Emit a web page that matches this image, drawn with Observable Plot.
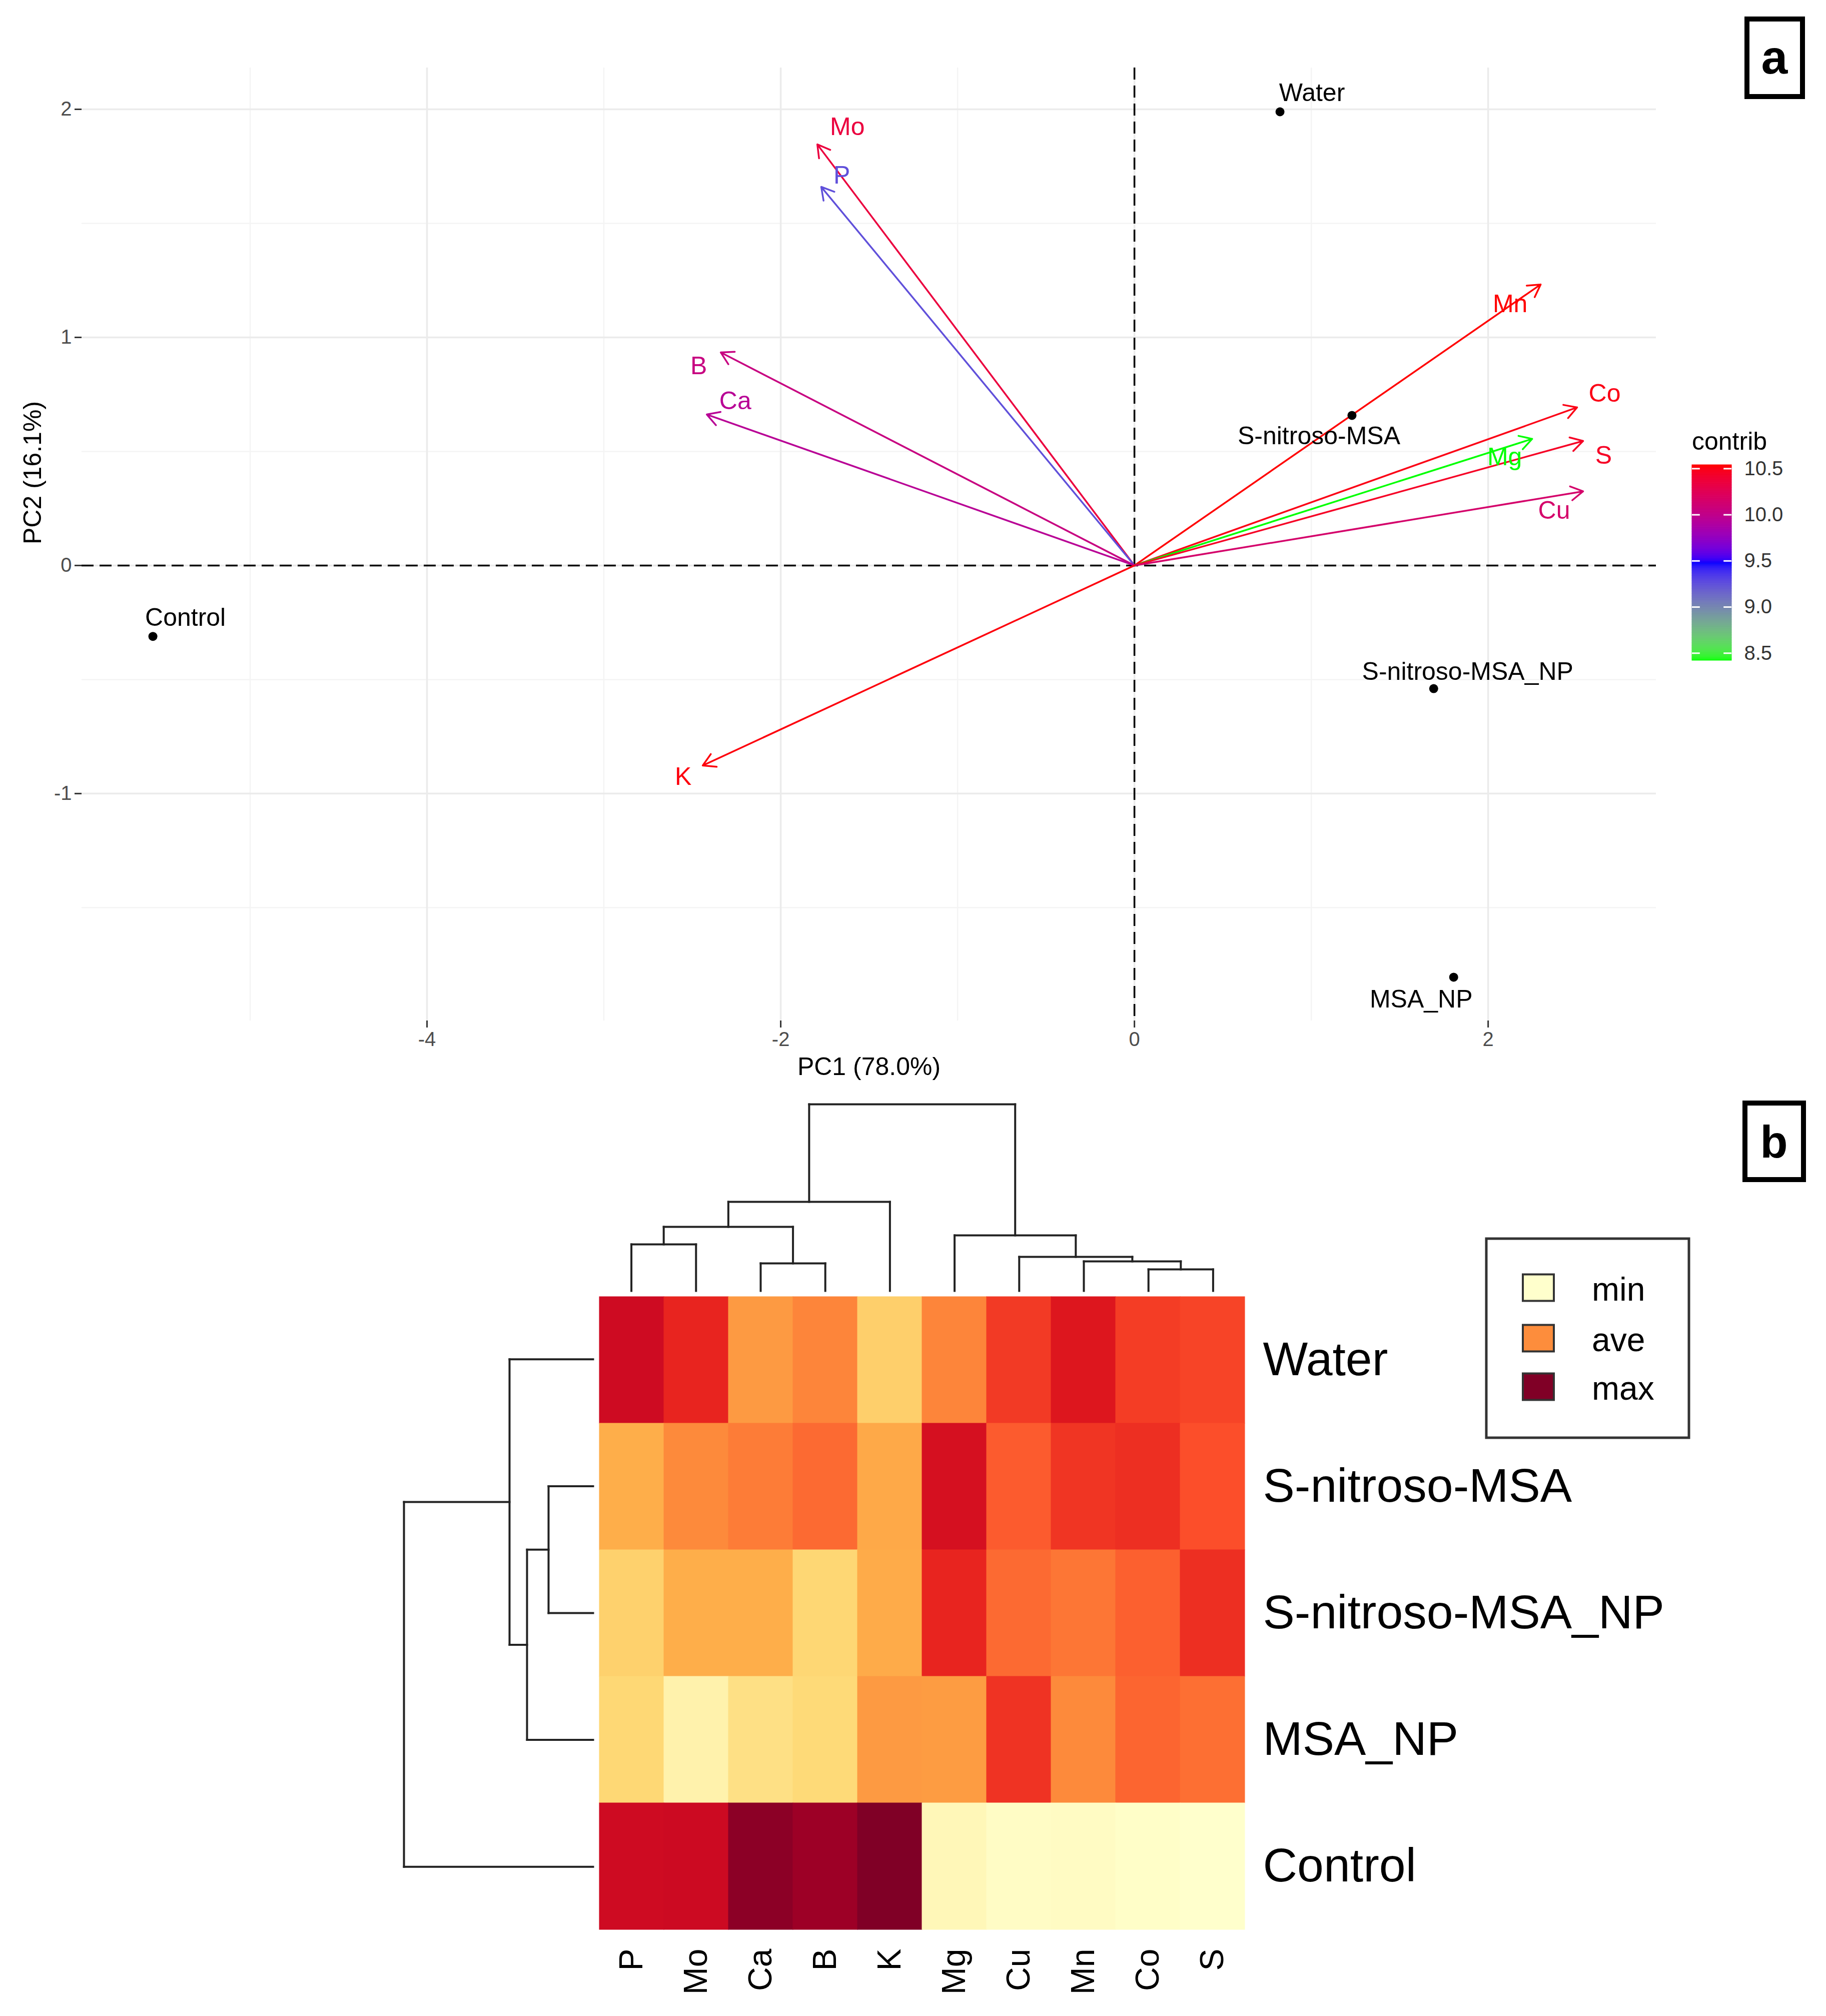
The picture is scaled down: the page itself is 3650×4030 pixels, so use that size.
<!DOCTYPE html>
<html><head><meta charset="utf-8">
<script src="https://cdn.jsdelivr.net/npm/d3@7"></script>
<script src="https://cdn.jsdelivr.net/npm/@observablehq/plot@0.6"></script>
<style>
html,body{margin:0;padding:0;background:#fff;overflow:hidden;}
#root{position:relative;width:3650px;height:4030px;background:#fff;font-family:"Liberation Sans",Arial,sans-serif;}
#root svg{position:absolute;}
</style></head><body><div id="root"></div>
<script>
// ---------- Panel a: PCA biplot ----------
const treatments = ["Water", "S-nitroso-MSA", "Control", "S-nitroso-MSA_NP", "MSA_NP"];
const indPC1 = [0.823, 1.230, -5.550, 1.692, 1.805];
const indPC2 = [1.989, 0.658, -0.311, -0.540, -1.805];

const elements = ["Mo", "P", "B", "Ca", "Mn", "Co", "Mg", "S", "Cu", "K"];
const varPC1 = [-1.793, -1.771, -2.339, -2.418, 2.297, 2.503, 2.249, 2.537, 2.537, -2.441];
const varPC2 = [1.846, 1.660, 0.934, 0.662, 1.232, 0.693, 0.555, 0.546, 0.325, -0.877];
const contrib = [10.35, 9.25, 10.05, 9.95, 10.54, 10.50, 8.42, 10.45, 10.15, 10.52];

const xTicks = [-4, -2, 0, 2];
const xMinor = [-5, -3, -1, 1];
const yTicks = [-1, 0, 1, 2];
const yMinor = [-1.5, -0.5, 0.5, 1.5];
const contribTicks = [8.5, 9.0, 9.5, 10.0, 10.5];

// ---------- Panel b: heatmap ----------
const heatCols = ["P", "Mo", "Ca", "B", "K", "Mg", "Cu", "Mn", "Co", "S"];
const heatRows = ["Water", "S-nitroso-MSA", "S-nitroso-MSA_NP", "MSA_NP", "Control"];
const heatWater        = [0.820, 0.725, 0.456, 0.516, 0.282, 0.515, 0.673, 0.770, 0.666, 0.650];
const heatSnitroso     = [0.390, 0.506, 0.534, 0.570, 0.405, 0.796, 0.600, 0.685, 0.700, 0.625];
const heatSnitrosoNP   = [0.276, 0.390, 0.390, 0.255, 0.400, 0.725, 0.570, 0.546, 0.590, 0.700];
const heatMSANP        = [0.253, 0.090, 0.206, 0.245, 0.456, 0.450, 0.690, 0.505, 0.580, 0.560];
const heatControl      = [0.820, 0.825, 0.975, 0.940, 1.000, 0.057, 0.020, 0.025, 0.010, 0.000];
const heatValues = [heatWater, heatSnitroso, heatSnitrosoNP, heatMSANP, heatControl];

// dendrograms: [left, right, height]
const colTree = [[[["P", "Mo", 93], ["Ca", "B", 55], 128], "K", 178], ["Mg", ["Cu", ["Mn", ["Co", "S", 43], 59], 68], 111], 373];
const rowTree = [["Water", [["S-nitroso-MSA", "S-nitroso-MSA_NP", 89], "MSA_NP", 132], 167], "Control", 378];

const legendLabels = ["min", "ave", "max"];
const legendValues = [0, 0.5, 1];
const ylorrd = ["#ffffcc", "#ffeda0", "#fed976", "#feb24c", "#fd8d3c", "#fc4e2a", "#e31a1c", "#bd0026", "#800026"];

// ---------- styles (pixel offsets of repelled labels) ----------
const indLabelOffset = {"Water": [64, -38], "S-nitroso-MSA": [-66, 42], "Control": [65, -37], "S-nitroso-MSA_NP": [68, -34], "MSA_NP": [-65, 45]};
const varLabelOffset = {Mo: [60, -35], P: [41, -23], B: [-44, 27], Ca: [57, -27], Mn: [-61, 39], Co: [55, -27], Mg: [-55, 37], S: [41, 30], Cu: [-58, 39], K: [-39, 23]};
const FONT = "Liberation Sans, Arial, sans-serif";

const root = document.getElementById("root");
function place(el, left, top) { el.style.left = left + "px"; el.style.top = top + "px"; root.appendChild(el); return el; }

const inds = treatments.map((t, i) => ({name: t, x: indPC1[i], y: indPC2[i]}));
const vars = elements.map((e, i) => ({name: e, x: varPC1[i], y: varPC2[i], contrib: contrib[i]}));
const cmin = d3.min(contrib), cmax = d3.max(contrib);
const colorContrib = {type: "linear", domain: [cmin, (cmin + cmax) / 2, cmax], range: ["#00ff00", "#0000ff", "#ff0000"], interpolate: "lab"};

const pca = Plot.plot({
  width: 3650, height: 2150,
  marginLeft: 163, marginRight: 340, marginTop: 135, marginBottom: 110,
  style: {fontFamily: FONT, background: "transparent", overflow: "visible"},
  x: {domain: [-5.952, 2.950], label: null, axis: null},
  y: {domain: [-1.996, 2.182], label: null, axis: null},
  color: colorContrib,
  marks: [
    Plot.ruleX(xMinor, {stroke: "#f4f4f4", strokeWidth: 2.5}),
    Plot.ruleY(yMinor, {stroke: "#f4f4f4", strokeWidth: 2.5}),
    Plot.ruleX(xTicks, {stroke: "#ebebeb", strokeWidth: 3.5}),
    Plot.ruleY(yTicks, {stroke: "#ebebeb", strokeWidth: 3.5}),
    Plot.ruleX([0], {stroke: "#000", strokeWidth: 3.5, strokeDasharray: "24,12"}),
    Plot.ruleY([0], {stroke: "#000", strokeWidth: 3.5, strokeDasharray: "24,12"}),
    Plot.axisX(xTicks, {anchor: "bottom", tickSize: 14, tickPadding: 8, tickFormat: d => String(d), fontSize: 40, stroke: "#333", fill: "#4d4d4d", strokeWidth: 3, label: null}),
    Plot.axisY(yTicks, {anchor: "left", tickSize: 14, tickPadding: 6, tickFormat: d => String(d), fontSize: 40, stroke: "#333", fill: "#4d4d4d", strokeWidth: 3, label: null}),
    Plot.text(["PC1 (78.0%)"], {frameAnchor: "bottom", dy: 108, fontSize: 50, fill: "#000"}),
    Plot.text(["PC2 (16.1%)"], {frameAnchor: "left", dx: -98, rotate: -90, fontSize: 50, fill: "#000"}),
    Plot.arrow(vars, {x1: 0, y1: 0, x2: "x", y2: "y", stroke: "contrib", strokeWidth: 3.5, headLength: 12, headAngle: 60}),
    ...vars.map(v => Plot.text([v], {x: "x", y: "y", text: "name", fill: "contrib", fontSize: 50, dx: varLabelOffset[v.name][0], dy: varLabelOffset[v.name][1]})),
    Plot.dot(inds, {x: "x", y: "y", r: 9, fill: "#000"}),
    ...inds.map(d => Plot.text([d], {x: "x", y: "y", text: "name", fill: "#000", fontSize: 50, dx: indLabelOffset[d.name][0], dy: indLabelOffset[d.name][1]}))
  ]
});
place(pca, 0, 0);

// colour bar for contrib
const nSlices = 120;
const slices = d3.range(nSlices).map(i => {
  const a = cmin + (cmax - cmin) * i / nSlices, b = cmin + (cmax - cmin) * (i + 1) / nSlices;
  return {y1: a, y2: b, v: (a + b) / 2};
});
const cbar = Plot.plot({
  width: 200, height: 411, marginTop: 10, marginBottom: 10, marginLeft: 0, marginRight: 121,
  style: {fontFamily: FONT, background: "transparent", overflow: "visible"},
  x: {domain: [0, 1], axis: null},
  y: {domain: [cmin, cmax], axis: null},
  color: colorContrib,
  marks: [
    Plot.rect(slices, {x1: 0, x2: 1, y1: "y1", y2: "y2", fill: "v", stroke: "v", strokeWidth: 1}),
    Plot.ruleY(contribTicks, {x1: 0, x2: 0.2, stroke: "#fff", strokeWidth: 3}),
    Plot.ruleY(contribTicks, {x1: 0.8, x2: 1, stroke: "#fff", strokeWidth: 3}),
    Plot.axisY(contribTicks, {anchor: "right", tickSize: 0, tickPadding: 25, tickFormat: d => d.toFixed(1), fontSize: 40, fill: "#333", label: null})
  ]
});
place(cbar, 3382, 919);

// ---------- heatmap ----------
const heatData = [];
heatRows.forEach((r, i) => heatCols.forEach((c, j) => heatData.push({row: r, col: c, v: heatValues[i][j]})));
const colorHeat = {type: "linear", domain: ylorrd.map((_, i) => i / 8), range: ylorrd, interpolate: "rgb"};

const hm = Plot.plot({
  width: 1292 + 1100, height: 1268 + 172,
  marginLeft: 0, marginTop: 0, marginRight: 1100, marginBottom: 172,
  style: {fontFamily: FONT, background: "transparent", overflow: "visible"},
  x: {domain: heatCols, padding: 0, axis: null, label: null},
  y: {domain: heatRows, padding: 0, axis: null, label: null},
  color: colorHeat,
  marks: [
    Plot.cell(heatData, {x: "col", y: "row", fill: "v", stroke: "v", strokeWidth: 1}),
    Plot.axisX({anchor: "bottom", tickSize: 0, tickPadding: 37, tickRotate: -90, fontSize: 66, fill: "#000", label: null}),
    Plot.axisY({anchor: "right", tickSize: 0, tickPadding: 35, fontSize: 95, fill: "#000", label: null})
  ]
});
place(hm, 1197, 2590);

function dendroSegments(tree, order) {
  const segs = [];
  function walk(node) {
    if (typeof node === "string") return {p: order.indexOf(node), h: 0};
    const [a, b, h] = node;
    const A = walk(a), B = walk(b);
    segs.push({p1: A.p, h1: A.h, p2: A.p, h2: h});
    segs.push({p1: B.p, h1: B.h, p2: B.p, h2: h});
    segs.push({p1: A.p, h1: h, p2: B.p, h2: h});
    return {p: (A.p + B.p) / 2, h};
  }
  walk(tree);
  return segs;
}

const colSegs = dendroSegments(colTree, heatCols);
const colDendro = Plot.plot({
  width: 1292, height: 400, marginLeft: 0, marginRight: 0, marginTop: 17, marginBottom: 10,
  style: {background: "transparent", overflow: "visible"},
  x: {domain: [-0.5, heatCols.length - 0.5], axis: null},
  y: {domain: [0, 373], axis: null},
  marks: [Plot.link(colSegs, {x1: "p1", y1: "h1", x2: "p2", y2: "h2", stroke: "#222", strokeWidth: 4, strokeLinecap: "square"})]
});
place(colDendro, 1197, 2190);

const rowSegs = dendroSegments(rowTree, heatRows);
const rowDendro = Plot.plot({
  width: 410, height: 1268, marginLeft: 17, marginRight: 15, marginTop: 0, marginBottom: 0,
  style: {background: "transparent", overflow: "visible"},
  x: {domain: [0, 378], reverse: true, axis: null},
  y: {domain: [-0.5, heatRows.length - 0.5], reverse: true, axis: null},
  marks: [Plot.link(rowSegs, {x1: "h1", y1: "p1", x2: "h2", y2: "p2", stroke: "#222", strokeWidth: 4, strokeLinecap: "square"})]
});
place(rowDendro, 790, 2590);

// ---------- overlay: panel letters, legend title, heatmap legend ----------
const heatScale = Plot.scale({color: colorHeat});
const ov = d3.create("svg").attr("width", 3650).attr("height", 4030)
  .style("font-family", FONT).style("pointer-events", "none");
ov.append("rect").attr("x", 3492).attr("y", 38).attr("width", 111).attr("height", 155)
  .attr("fill", "none").attr("stroke", "#000").attr("stroke-width", 10);
ov.append("text").attr("x", 3547).attr("y", 147).attr("text-anchor", "middle")
  .attr("font-size", 95).attr("font-weight", "bold").text("a");
ov.append("rect").attr("x", 3488).attr("y", 2205).attr("width", 117).attr("height", 153)
  .attr("fill", "none").attr("stroke", "#000").attr("stroke-width", 10);
ov.append("text").attr("x", 3546).attr("y", 2314).attr("text-anchor", "middle")
  .attr("font-size", 90).attr("font-weight", "bold").text("b");
ov.append("text").attr("x", 3382).attr("y", 899).attr("font-size", 50).attr("fill", "#000").text("contrib");
ov.append("rect").attr("x", 2971).attr("y", 2476).attr("width", 405).attr("height", 398)
  .attr("fill", "#fff").attr("stroke", "#333").attr("stroke-width", 5);
const legCenters = [2574, 2675, 2772];
legendLabels.forEach((lab, i) => {
  ov.append("rect").attr("x", 3044).attr("y", legCenters[i] - 26.5).attr("width", 62).attr("height", 53)
    .attr("fill", heatScale.apply(legendValues[i])).attr("stroke", "#333").attr("stroke-width", 4);
  ov.append("text").attr("x", 3182).attr("y", legCenters[i] + 26).attr("font-size", 66).attr("fill", "#000").text(lab);
});
place(ov.node(), 0, 0);
</script></body></html>
